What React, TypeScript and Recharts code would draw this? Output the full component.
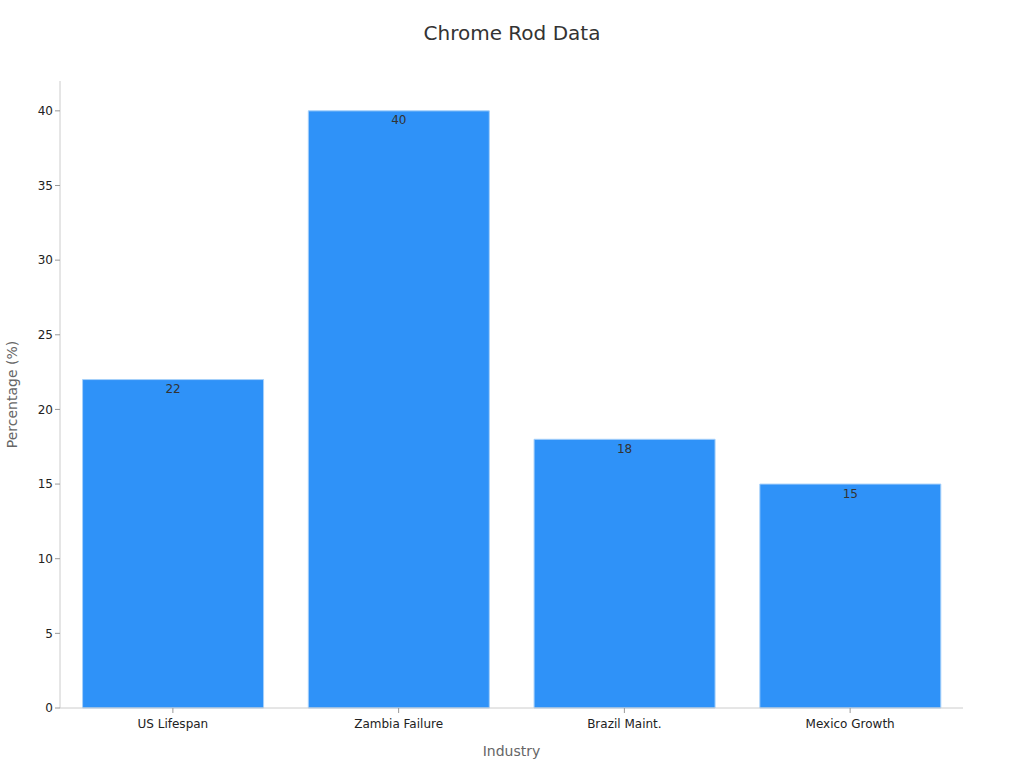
import React from 'react';
import { BarChart, Bar, XAxis, YAxis, LabelList } from 'recharts';

const categories = ['US Lifespan', 'Zambia Failure', 'Brazil Maint.', 'Mexico Growth'];
const percentages = [22, 40, 18, 15];
const yTicks = [0, 5, 10, 15, 20, 25, 30, 35, 40];

const data = categories.map((industry, i) => ({ industry, value: percentages[i] }));

const FONT = 'DejaVu Sans, sans-serif';

const App: React.FC = () => {
  return (
    <div style={{ position: 'absolute', left: 0, top: 0, width: 1024, height: 768, background: '#fff', fontFamily: FONT }}>
      <div style={{ position: 'absolute', top: 21, width: 1024, textAlign: 'center', fontSize: 20, color: '#333' }}>
        Chrome Rod Data
      </div>
      <BarChart
        width={1024}
        height={768}
        data={data}
        margin={{ top: 81, right: 61, left: 0, bottom: 0 }}
        barCategoryGap="10%"
      >
        <XAxis
          dataKey="industry"
          height={60}
          tick={{ fontSize: 12, fill: '#222', fontFamily: FONT }}
          tickLine={{ stroke: '#999' }}
          axisLine={{ stroke: '#ccc' }}
          tickSize={5}
          tickMargin={6}
          label={{ value: 'Industry', position: 'insideBottom', offset: 12, fontSize: 14, fill: '#666', fontFamily: FONT }}
        />
        <YAxis
          width={60}
          domain={[0, 42]}
          ticks={yTicks}
          tick={{ fontSize: 12, fill: '#222', fontFamily: FONT }}
          tickLine={{ stroke: '#999' }}
          axisLine={{ stroke: '#ccc' }}
          tickSize={5}
          label={{ value: 'Percentage (%)', angle: -90, position: 'insideLeft', offset: 12, fontSize: 14, fill: '#666', fontFamily: FONT, style: { textAnchor: 'middle' } }}
        />
        <Bar dataKey="value" fill="#2f92f8" stroke="#a6d0fa" strokeWidth={1} isAnimationActive={false}>
          <LabelList dataKey="value" position="insideTop" offset={5} fontSize={12} fill="#333" fontFamily={FONT} />
        </Bar>
      </BarChart>
    </div>
  );
};

export default App;
